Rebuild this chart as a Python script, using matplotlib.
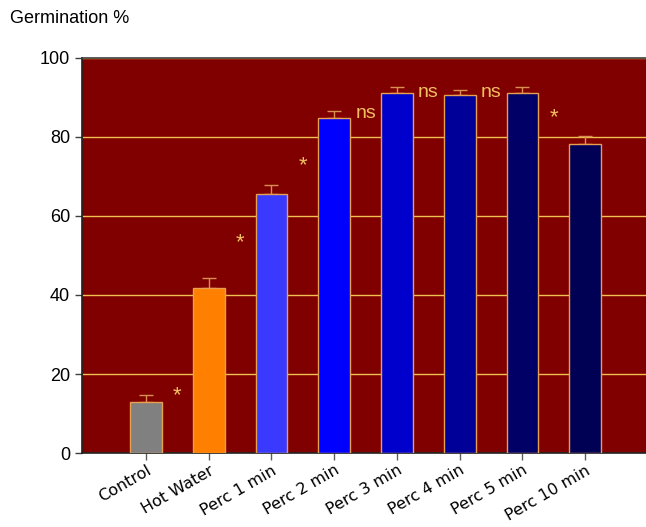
import matplotlib.pyplot as plt
import numpy as np

# data
categories = ['Control', 'Hot Water', 'Perc 1 min', 'Perc 2 min',
              'Perc 3 min', 'Perc 4 min', 'Perc 5 min', 'Perc 10 min']
germination = [13.0, 41.8, 65.6, 84.7, 91.2, 90.5, 91.2, 78.2]
sem = [1.7, 2.5, 2.3, 1.9, 1.5, 1.5, 1.5, 2.1]
bar_colors = ['#808080', '#FF8000', '#3A3AFF', '#0000FF',
              '#0000CC', '#000099', '#000066', '#000055']

# significance marks, sitting between bar i-1 and bar i
sig_labels = ['*', '*', '*', 'ns', 'ns', 'ns', '*']
sig_pos = [0.5, 1.5, 2.5, 3.5, 4.5, 5.5, 6.5]
sig_y = [13.2, 51.8, 71.3, 84.8, 90.1, 90.1, 83.5]

plt.rcParams['font.family'] = ['Liberation Sans', 'DejaVu Sans']

fig = plt.figure(figsize=(6.46, 5.27), dpi=100)
ax = fig.add_axes([0.127, 0.1404, 0.873, 0.7496])
ax.set_facecolor('#800000')

ind = np.arange(len(categories))
ax.yaxis.grid(True, color='#F0C050', linewidth=1.0)
ax.set_axisbelow(True)

ax.bar(ind, germination, 0.505, color=bar_colors, edgecolor='#E8A050',
       linewidth=1.0, zorder=3)
ax.errorbar(ind, germination, yerr=[np.zeros(len(sem)), sem], fmt='none',
            ecolor='#D89050', elinewidth=1.0, capsize=5, capthick=1.0, zorder=2)

for lab, x, y in zip(sig_labels, sig_pos, sig_y):
    fs = 16 if lab == '*' else 14
    ax.text(x, y, lab, color='#F0C060', fontsize=fs, ha='center',
            va='baseline', zorder=4)

ax.set_xlim(-1.02, 7.97)
ax.set_ylim(0, 100)
ax.set_yticks([0, 20, 40, 60, 80, 100])
ax.tick_params(axis='y', labelsize=13, length=5, width=1, color='#404040')
ax.tick_params(axis='x', length=5, width=1, color='#606060', pad=2)
ax.set_xticks(ind)
ax.set_xticklabels(categories, rotation=30, ha='right', rotation_mode='anchor',
                   fontsize=11.5, family='DejaVu Sans')

ax.spines['right'].set_visible(False)
for side in ['left', 'bottom', 'top']:
    ax.spines[side].set_color('#202020')
    ax.spines[side].set_linewidth(1.2)
ax.spines['top'].set_color('#404040')

fig.text(0.015, 0.965, 'Germination %', fontsize=13, ha='left', va='center')

fig.savefig('out.png', dpi=100)
